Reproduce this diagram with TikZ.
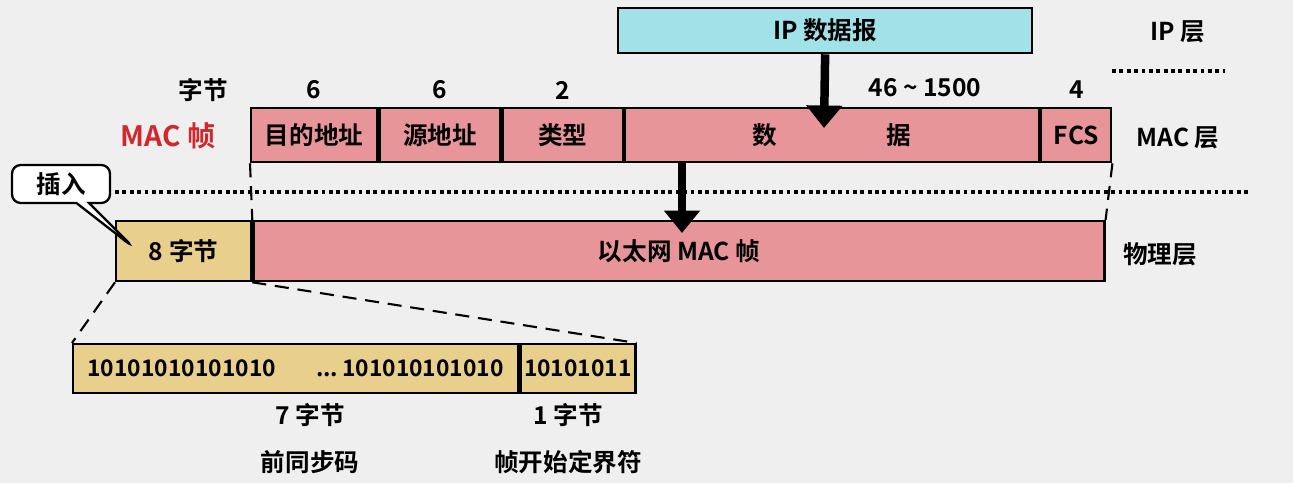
\documentclass[tikz,border=0pt]{standalone}
\usepackage{fontspec}
\setmainfont{Noto Sans CJK SC}[BoldFont={Noto Sans CJK SC Bold}]
\usetikzlibrary{positioning,arrows.meta,shapes.callouts}
\definecolor{pinkfld}{HTML}{E8959A}
\definecolor{tanfld}{HTML}{E8CF8C}
\definecolor{ipfld}{HTML}{A0E2E8}
\definecolor{bggray}{HTML}{EFEFEF}
\definecolor{macred}{HTML}{D0282C}
\tikzset{
fld/.style={draw,line width=1.3pt,rectangle,minimum height=54*0.02cm,inner sep=0pt,font=\bfseries\fontsize{14}{16}\selectfont},
lbl/.style={inner sep=0pt,font=\bfseries\fontsize{14}{16}\selectfont},
dsh/.style={line width=1.2pt,dash pattern=on 8pt off 5pt},
bigarrow/.style={line width=0.17cm,-{Triangle[length=0.45cm,width=0.7cm]}}}
\begin{document}
\begin{tikzpicture}[x=0.02cm,y=-0.02cm]
\fill[bggray] (0,0) rectangle (1293,483);
\useasboundingbox (0,0) rectangle (1293,483);
% upper layers
\node (ip) [fld,fill=ipfld,minimum width=414*0.02cm,minimum height=45*0.02cm,anchor=north west] at (617,7) {IP 数据报};
\node (dst) [fld,fill=pinkfld,minimum width=126*0.02cm,anchor=north west] at (250,107) {目的地址};
\node (src) [fld,fill=pinkfld,minimum width=121*0.02cm,right=0 of dst] {源地址};
\node (typ) [fld,fill=pinkfld,minimum width=120*0.02cm,right=0 of src] {类型};
\node (dat) [fld,fill=pinkfld,minimum width=414*0.02cm,right=0 of typ] {数\hspace{2.2cm}据};
\node (fcs) [fld,fill=pinkfld,minimum width=70*0.02cm,right=0 of dat] {FCS};
\node [lbl] at (203,90) {字节};
\node [lbl] at (dst|-0,90) {6};
\node [lbl] at (src|-0,90) {6};
\node [lbl] at (typ|-0,90) {2};
\node [lbl] at (925,88) {46 \textasciitilde\ 1500};
\node [lbl] at (fcs|-0,90) {4};
\node [lbl,text=macred,font=\bfseries\fontsize{16}{18}\selectfont] at (168,136) {MAC 帧};
\node [lbl] at (1178,32) {IP 层};
\node [lbl] at (1178,138) {MAC 层};
\node [lbl] at (1160,254) {物理层};
\draw[line width=2.2pt,dotted] (1112,71) -- (1225,71);
\draw[line width=2.2pt,dotted] (115,192) -- (1250,192);
% physical layer
\node (pre) [fld,fill=tanfld,minimum width=135*0.02cm,minimum height=60*0.02cm,anchor=north west] at (115,220) {8 字节};
\node (eth) [fld,fill=pinkfld,minimum width=851*0.02cm,minimum height=60*0.02cm,right=0 of pre] {以太网 MAC 帧};
\draw[dsh] (dst.south west) -- (eth.north west);
\draw[dsh] (fcs.south east) -- (eth.north east);
\draw[bigarrow] (ip.south) -- (824,128);
\draw[bigarrow] (682,161) -- (682,233);
\node (ins) [rectangle callout,draw,line width=1.3pt,fill=white,rounded corners=5pt,minimum width=98*0.02cm,minimum height=38*0.02cm,font=\bfseries\fontsize{14}{16}\selectfont,callout absolute pointer={(133,247)}] at (61,184) {插入};
% preamble detail
\node (sync) [fld,fill=tanfld,minimum width=445*0.02cm,minimum height=49*0.02cm,anchor=north west,font=\bfseries\fontsize{13}{15}\selectfont] at (72,343) {10101010101010\hspace{0.8cm}...\,101010101010};
\node (sfd) [fld,fill=tanfld,minimum width=115*0.02cm,minimum height=49*0.02cm,right=0 of sync,font=\bfseries\fontsize{13}{15}\selectfont] {10101011};
\draw[dsh] (pre.south west) -- (sync.north west);
\draw[dsh] (pre.south east) -- (sfd.north east);
\node [lbl] at (310,415) {7 字节};
\node [lbl] at (310,462) {前同步码};
\node [lbl] at (568,415) {1 字节};
\node [lbl] at (568,462) {帧开始定界符};
\end{tikzpicture}
\end{document}
